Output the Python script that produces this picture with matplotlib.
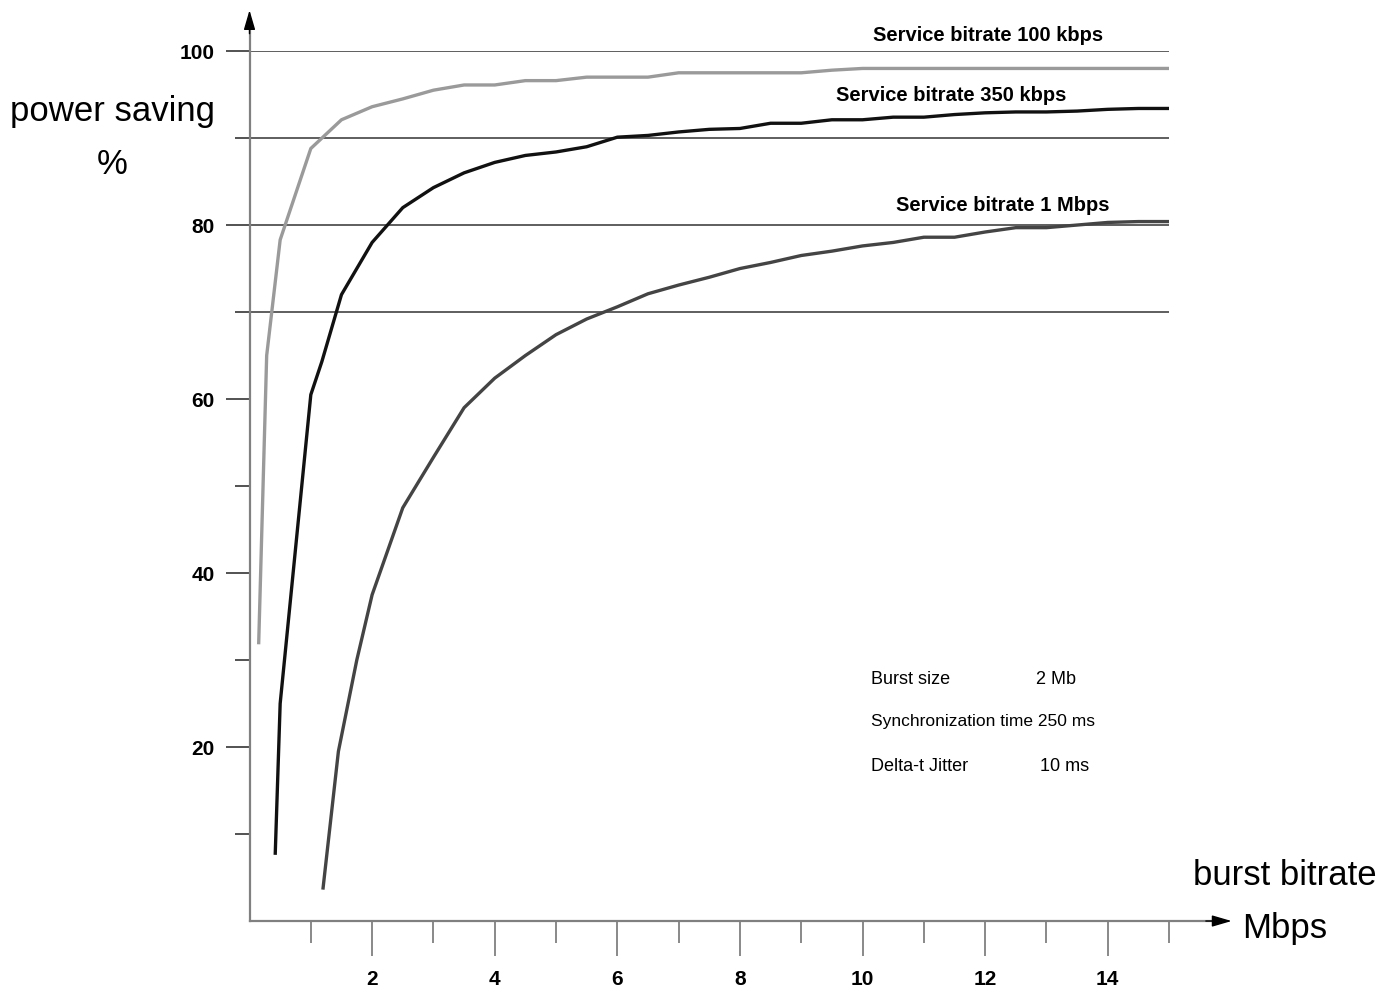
import numpy as np
import matplotlib
matplotlib.use('Agg')
import matplotlib.pyplot as plt

plt.rcParams['font.family'] = ['Liberation Sans', 'DejaVu Sans']

# service bitrate 100 kbps
x_100k = [0.15, 0.28, 0.5, 1.0, 1.5, 2.0, 2.5, 3.0, 3.5, 4.0, 4.5, 5.0, 5.5, 6.0, 6.5,
          7.0, 7.5, 8.0, 8.5, 9.0, 9.5, 10.0, 10.5, 11.0, 11.5, 12.0, 12.5, 13.0, 13.5,
          14.0, 14.5, 15.0]
y_100k = [32.0, 65.0, 78.3, 88.8, 92.1, 93.6, 94.5, 95.5, 96.1, 96.1, 96.6, 96.6, 97.0,
          97.0, 97.0, 97.5, 97.5, 97.5, 97.5, 97.5, 97.8, 98.0, 98.0, 98.0, 98.0, 98.0,
          98.0, 98.0, 98.0, 98.0, 98.0, 98.0]

# service bitrate 350 kbps
x_350k = [0.42, 0.5, 1.0, 1.18, 1.5, 2.0, 2.5, 3.0, 3.5, 4.0, 4.5, 5.0, 5.5, 6.0, 6.5, 7.0,
          7.5, 8.0, 8.5, 9.0, 9.5, 10.0, 10.5, 11.0, 11.5, 12.0, 12.5, 13.0, 13.5, 14.0,
          14.5, 15.0]
y_350k = [7.8, 25.0, 60.5, 64.3, 72.0, 78.0, 82.0, 84.3, 86.0, 87.2, 88.0, 88.4, 89.0, 90.1,
          90.3, 90.7, 91.0, 91.1, 91.7, 91.7, 92.1, 92.1, 92.4, 92.4, 92.7, 92.9, 93.0,
          93.0, 93.1, 93.3, 93.4, 93.4]

# service bitrate 1 Mbps
x_1m = [1.2, 1.45, 1.75, 2.0, 2.5, 3.0, 3.5, 4.0, 4.5, 5.0, 5.5, 6.0, 6.5, 7.0, 7.5,
        8.0, 8.5, 9.0, 9.5, 10.0, 10.5, 11.0, 11.5, 12.0, 12.5, 13.0, 13.5, 14.0, 14.5,
        15.0]
y_1m = [3.8, 19.5, 30.0, 37.5, 47.5, 53.3, 59.0, 62.4, 65.0, 67.4, 69.2, 70.6, 72.1,
        73.1, 74.0, 75.0, 75.7, 76.5, 77.0, 77.6, 78.0, 78.6, 78.6, 79.2, 79.7, 79.7,
        80.0, 80.3, 80.4, 80.4]

grid_levels = [100, 90, 80, 70]

fig = plt.figure(figsize=(13.77, 9.97), dpi=100)
ax = fig.add_axes([0.1812, 0.0762, 0.6678, 0.8726])
ax.set_xlim(0, 15)
ax.set_ylim(0, 100)

for g in grid_levels:
    ax.plot([0, 15], [g, g], color='#333333', lw=1.1, zorder=1)

ax.plot(x_100k, y_100k, color='#9a9a9a', lw=2.4, zorder=3)
ax.plot(x_350k, y_350k, color='#111111', lw=2.4, zorder=3)
ax.plot(x_1m, y_1m, color='#444444', lw=2.4, zorder=3)

for s in ['top', 'right', 'left', 'bottom']:
    ax.spines[s].set_visible(False)

# axis lines (gray) with black arrow heads
ax.plot([0, 1.05], [0, 0], transform=ax.transAxes, clip_on=False,
        color='#808080', lw=1.6, zorder=2)
ax.plot([0, 0], [0, 1.03], transform=ax.transAxes, clip_on=False,
        color='#808080', lw=1.6, zorder=2)
ax.annotate('', xy=(1.068, 0), xytext=(1.04, 0), xycoords='axes fraction',
            arrowprops=dict(arrowstyle='-|>,head_length=1.2,head_width=0.35',
                            color='black', lw=1.0, shrinkA=0, shrinkB=0))
ax.annotate('', xy=(0, 1.047), xytext=(0, 1.02), xycoords='axes fraction',
            arrowprops=dict(arrowstyle='-|>,head_length=1.2,head_width=0.35',
                            color='black', lw=1.0, shrinkA=0, shrinkB=0))

ax.xaxis.set_major_locator(plt.FixedLocator([2, 4, 6, 8, 10, 12, 14]))
ax.xaxis.set_minor_locator(plt.FixedLocator([1, 3, 5, 7, 9, 11, 13, 15]))
ax.yaxis.set_major_locator(plt.FixedLocator([20, 40, 60, 80, 100]))
ax.yaxis.set_minor_locator(plt.FixedLocator([10, 30, 50, 70, 90]))

ax.tick_params(axis='x', which='major', length=25, width=1.3, color='#808080',
               pad=10, labelsize=15)
ax.tick_params(axis='x', which='minor', length=16, width=1.3, color='#808080')
ax.tick_params(axis='y', which='major', length=17, width=1.3, color='#444444',
               pad=8, labelsize=15)
ax.tick_params(axis='y', which='minor', length=11, width=1.3, color='#444444')
for lab in ax.get_xticklabels() + ax.get_yticklabels():
    lab.set_fontweight('bold')

ax.set_ylabel('power saving\n%', rotation=0, fontsize=25, ha='center', va='center',
              linespacing=1.75)
ax.yaxis.set_label_coords(-0.1495, 0.9)
ax.set_xlabel('burst bitrate\nMbps', fontsize=25, ha='center', va='center',
              linespacing=1.75)
ax.xaxis.set_label_coords(1.126, 0.022)

ax.text(12.05, 101.8, 'Service bitrate 100 kbps', ha='center', va='center',
        fontsize=14.5, fontweight='bold')
ax.text(11.44, 94.9, 'Service bitrate 350 kbps', ha='center', va='center',
        fontsize=14.5, fontweight='bold')
ax.text(12.29, 82.2, 'Service bitrate 1 Mbps', ha='center', va='center',
        fontsize=14.5, fontweight='bold')

ax.text(10.14, 27.8, 'Burst size', ha='left', va='center', fontsize=13)
ax.text(12.83, 27.8, '2 Mb', ha='left', va='center', fontsize=13)
ax.text(10.14, 22.9, 'Synchronization time 250 ms', ha='left', va='center', fontsize=12.5)
ax.text(10.14, 17.8, 'Delta-t Jitter', ha='left', va='center', fontsize=13)
ax.text(12.9, 17.8, '10 ms', ha='left', va='center', fontsize=13)

fig.savefig('out.png', dpi=100)
